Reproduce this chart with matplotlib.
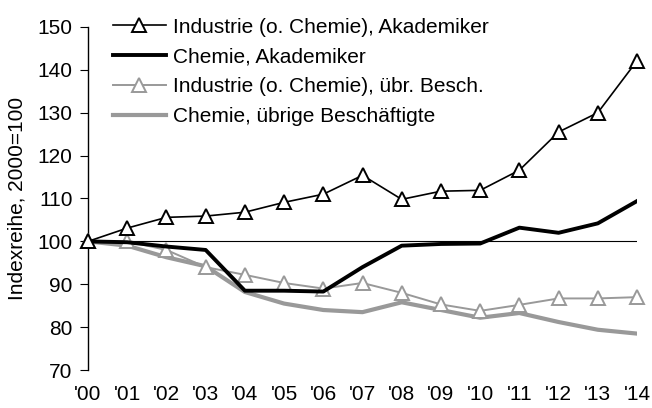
#!/usr/bin/env python3

import matplotlib
matplotlib.use("Agg")
import matplotlib.pyplot as plt

plt.rcParams['font.family'] = ['Liberation Sans', 'DejaVu Sans']

years = ["'00", "'01", "'02", "'03", "'04", "'05", "'06", "'07",
         "'08", "'09", "'10", "'11", "'12", "'13", "'14"]

ind_akad = [100, 103.1, 105.6, 105.9, 106.8, 109.1, 111.0, 115.4,
            109.8, 111.7, 111.9, 116.6, 125.5, 130.0, 142.1]
chem_akad = [100, 99.8, 98.8, 98.0, 88.5, 88.5, 88.3, 94.0,
             99.0, 99.4, 99.5, 103.2, 102.0, 104.2, 109.4]
ind_uebr = [100, 100.0, 98.0, 94.0, 92.2, 90.3, 89.0, 90.3,
            88.0, 85.3, 83.8, 85.2, 86.7, 86.7, 87.0]
chem_uebr = [100, 99.0, 96.3, 94.2, 88.2, 85.5, 84.0, 83.5,
             85.8, 84.0, 82.2, 83.3, 81.2, 79.4, 78.5]

labels = ["Industrie (o. Chemie), Akademiker",
          "Chemie, Akademiker",
          "Industrie (o. Chemie), übr. Besch.",
          "Chemie, übrige Beschäftigte"]

fig = plt.figure(figsize=(6.52, 4.08), dpi=100)
ax = fig.add_axes([0.135, 0.093, 0.842, 0.841])

x = list(range(len(years)))
gray = "#999999"

ax.axhline(100, color="black", lw=0.8, zorder=1)
ax.plot(x, chem_uebr, color=gray, lw=3, label=labels[3], zorder=2)
ax.plot(x, ind_uebr, color=gray, lw=1.4, marker="^", ms=10,
        mfc="white", mec=gray, mew=1.4, label=labels[2], zorder=3,
        clip_on=False)
ax.plot(x, chem_akad, color="black", lw=2.8, label=labels[1], zorder=4)
ax.plot(x, ind_akad, color="black", lw=1.2, marker="^", ms=10,
        mfc="white", mec="black", mew=1.4, label=labels[0], zorder=5,
        clip_on=False)

ax.set_xlim(0, 14)
ax.set_ylim(70, 150)
ax.set_yticks(range(70, 151, 10))
ax.set_xticks(x)
ax.set_xticklabels(years)
ax.tick_params(axis="y", labelsize=15, length=6, direction="out", pad=5)
ax.tick_params(axis="x", labelsize=15, length=0, pad=11)
ax.set_ylabel("Indexreihe, 2000=100", fontsize=15, labelpad=8)

for side in ["top", "right", "bottom"]:
    ax.spines[side].set_visible(False)
ax.spines["left"].set_linewidth(1)

h, l = ax.get_legend_handles_labels()
order = [3, 2, 1, 0]
ax.legend([h[i] for i in order], [l[i] for i in order],
          loc="upper left", bbox_to_anchor=(0.158, 0.982),
          bbox_transform=fig.transFigure, frameon=False, fontsize=15,
          handlelength=2.5, handletextpad=0.35, labelspacing=0.52,
          borderpad=0)

fig.savefig("out.png", dpi=100)
